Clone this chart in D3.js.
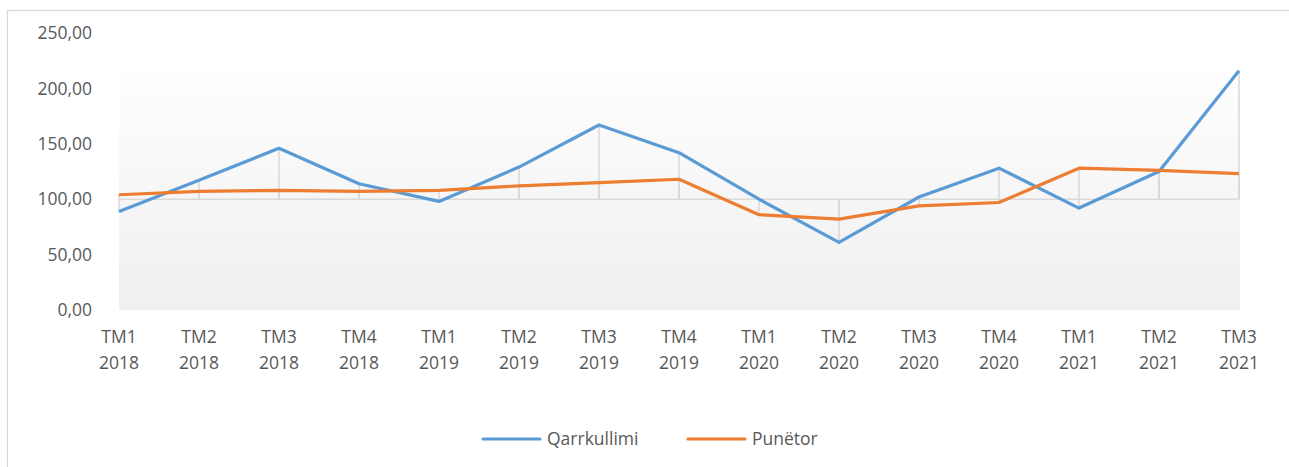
<!DOCTYPE html>
<html>
<head>
<meta charset="utf-8">
<script src="https://cdn.jsdelivr.net/npm/d3@7"></script>
<style>
  body { margin: 0; background: #fff; }
  text { font-family: "Open Sans", "Noto Sans", sans-serif; fill: #595959; }
</style>
</head>
<body>
<svg width="1289" height="467"></svg>
<script>
const quarters = ["TM1", "TM2", "TM3", "TM4", "TM1", "TM2", "TM3", "TM4", "TM1", "TM2", "TM3", "TM4", "TM1", "TM2", "TM3"];
const years = ["2018", "2018", "2018", "2018", "2019", "2019", "2019", "2019", "2020", "2020", "2020", "2020", "2021", "2021", "2021"];
const qarrkullimi = [89, 117, 146, 114, 98, 129, 167, 142, 100, 61, 102, 128, 92, 125, 216];
const punetor = [104, 107, 108, 107, 108, 112, 115, 118, 86, 82, 94, 97, 128, 126, 123];
const yTicks = [0, 50, 100, 150, 200, 250];

const categories = quarters.map((q, i) => q + " " + years[i]);
const series = [
  { name: "Qarrkullimi", values: qarrkullimi, color: "#5B9BD5" },
  { name: "Punëtor", values: punetor, color: "#ED7D31" }
];

const svg = d3.select("svg");

// outer chart border (only top and left show in the frame)
svg.append("rect")
  .attr("x", 7.5).attr("y", 10.5)
  .attr("width", 1400).attr("height", 600)
  .attr("fill", "none")
  .attr("stroke", "#d9d9d9")
  .attr("stroke-width", 1.2);

const x = d3.scalePoint().domain(categories).range([119, 1239]);
const y = d3.scaleLinear().domain([0, 250]).range([310, 33]);

// plot area gradient
const defs = svg.append("defs");
const grad = defs.append("linearGradient")
  .attr("id", "bg").attr("x1", 0).attr("y1", 0).attr("x2", 0).attr("y2", 1);
grad.append("stop").attr("offset", "0%").attr("stop-color", "#fefefe");
grad.append("stop").attr("offset", "100%").attr("stop-color", "#efefef");

svg.append("rect")
  .attr("x", x(categories[0]))
  .attr("y", y(216))
  .attr("width", x(categories[categories.length - 1]) - x(categories[0]) + 1)
  .attr("height", y(0) - y(216))
  .attr("fill", "url(#bg)");

// y axis labels
const fmt = (v) => d3.format(".2f")(v).replace(".", ",");
svg.append("g")
  .selectAll("text")
  .data(yTicks)
  .enter().append("text")
  .attr("x", 92)
  .attr("y", (d) => y(d))
  .attr("dy", "0.35em")
  .attr("text-anchor", "end")
  .style("font-size", "17.5px")
  .text((d) => fmt(d));

// horizontal axis crossing at 100
svg.append("line")
  .attr("x1", x(categories[0])).attr("x2", x(categories[categories.length - 1]))
  .attr("y1", y(100)).attr("y2", y(100))
  .attr("stroke", "#d9d9d9").attr("stroke-width", 1.5);

// drop lines to the axis
series.forEach((s) => {
  svg.append("g")
    .selectAll("line")
    .data(s.values)
    .enter().append("line")
    .attr("x1", (d, i) => x(categories[i]))
    .attr("x2", (d, i) => x(categories[i]))
    .attr("y1", y(100))
    .attr("y2", (d) => y(d))
    .attr("stroke", "#d9d9d9")
    .attr("stroke-width", 1.5);
});

// x labels, two lines each
const xl = svg.append("g")
  .selectAll("text")
  .data(categories)
  .enter().append("text")
  .attr("x", (d) => x(d))
  .attr("y", 343)
  .attr("text-anchor", "middle")
  .style("font-size", "17.5px");
xl.append("tspan").attr("x", (d) => x(d)).text((d, i) => quarters[i]);
xl.append("tspan").attr("x", (d) => x(d)).attr("dy", 26).text((d, i) => years[i]);

// series lines
const line = d3.line()
  .x((d, i) => x(categories[i]))
  .y((d) => y(d));

series.forEach((s) => {
  svg.append("path")
    .datum(s.values)
    .attr("d", line)
    .attr("fill", "none")
    .attr("stroke", s.color)
    .attr("stroke-width", 3.2)
    .attr("stroke-linejoin", "round");
});

// legend
const legendPos = [483, 688];
const legend = svg.append("g")
  .selectAll("g")
  .data(series)
  .enter().append("g")
  .attr("transform", (d, i) => "translate(" + legendPos[i] + ",439)");
legend.append("line")
  .attr("x1", 0).attr("x2", 57)
  .attr("stroke", (d) => d.color)
  .attr("stroke-width", 3.2)
  .attr("stroke-linecap", "round");
legend.append("text")
  .attr("x", 64)
  .attr("dy", "0.35em")
  .style("font-size", "17.5px")
  .text((d) => d.name);
</script>
</body>
</html>
